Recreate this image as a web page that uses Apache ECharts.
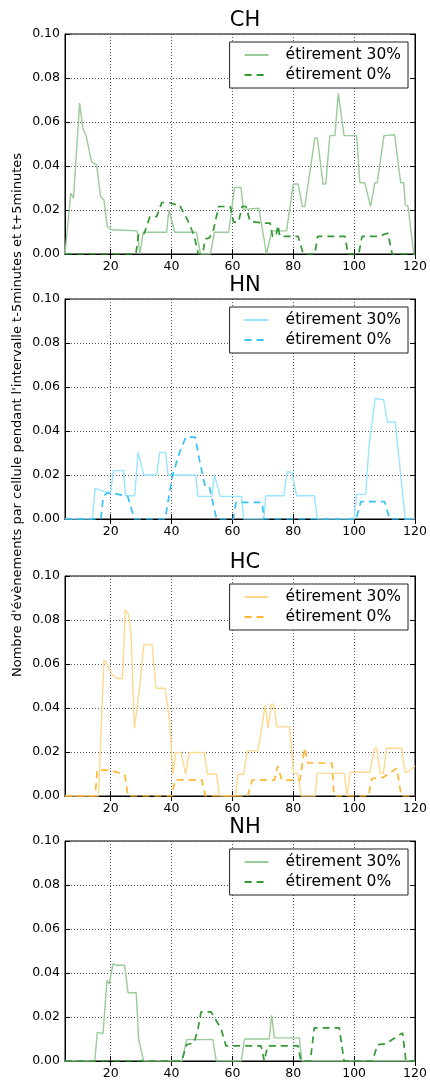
<!DOCTYPE html>
<html><head><meta charset="utf-8">
<script src="https://cdn.jsdelivr.net/npm/echarts@6/dist/echarts.min.js"></script>
<style>html,body{margin:0;padding:0;background:#fff}#c{width:430px;height:1082px}</style>
</head><body><div id="c"></div>
<script>
const panelTitles = ['CH', 'HN', 'HC', 'NH'];
const legendLabels = ['étirement 30%', 'étirement 0%'];
const yAxisTitle = "Nombre d'évènements par cellule pendant l'intervalle t-5minutes et t+5minutes";
const xTickValues = [20, 40, 60, 80, 100, 120];

const ch30 = [[5,0],[6.9,0.0276],[7.8,0.0254],[9.8,0.0686],[10.9,0.057],[12,0.0534],[13.7,0.042],[15.4,0.0405],[16.7,0.026],[17.8,0.0246],[18.9,0.0124],[20.5,0.011],[28.7,0.0105],[29.6,0],[30.7,0.0099],[38.4,0.0099],[39.1,0.02],[41.1,0.0099],[48.2,0.0099],[49.5,0],[52.8,0],[54.1,0.0099],[58.8,0.0099],[60.7,0.0303],[62.8,0.0303],[63.6,0.0203],[68.7,0.0208],[71.2,0],[72.9,0.0105],[77.8,0.0105],[80,0.0318],[81.6,0.0318],[83,0.0216],[83.8,0.0216],[87.1,0.0527],[87.9,0.0527],[89.8,0.0318],[90.7,0.0318],[92,0.0538],[93.7,0.0538],[94.8,0.0731],[96.7,0.0538],[100.8,0.0538],[101.9,0.0324],[103.5,0.0324],[105.4,0.0216],[106,0.0216],[106.8,0.0324],[107.6,0.0324],[109.8,0.0538],[113.3,0.0542],[115.3,0.0324],[116.3,0.0324],[116.8,0.0223],[117.7,0.0218],[119.6,0],[120,0]];
const ch0 = [[5,0],[28.3,0],[29.2,0.0092],[31,0.0092],[32.9,0.017],[35.1,0.017],[36.8,0.0234],[39,0.0234],[40.9,0.0226],[42.5,0.0226],[45.8,0.014],[47.5,0.0079],[48.8,0],[50.3,0],[51,0.0068],[52.3,0.0072],[53.6,0.0099],[55.5,0.0216],[59.3,0.0216],[60.4,0.0145],[62,0.0145],[63.2,0.0216],[64.5,0.0216],[65.8,0.0148],[70.7,0.014],[72.4,0.014],[73.2,0.008],[74.3,0.008],[75,0.013],[75.6,0.008],[81.6,0.008],[83.3,0],[87.1,0],[88,0.008],[97,0.008],[98,0],[101.5,0],[102.6,0.008],[107.9,0.008],[111.1,0.0095],[112.5,0],[120,0]];
const hn30 = [[5,0],[14,0],[14.9,0.0139],[18.9,0.0121],[20,0.0118],[20.9,0.022],[24.2,0.022],[24.9,0.0106],[27.9,0.0106],[29,0.0303],[29.6,0.03],[30.9,0.02],[35.1,0.02],[36.1,0.0302],[38,0.0302],[38.9,0.02],[47.9,0.02],[48.7,0.0103],[53.3,0.0103],[54.1,0.02],[54.6,0.02],[56,0.0103],[63,0.0103],[63.7,0],[70.3,0],[71,0.0106],[76.9,0.0106],[78,0.0215],[79.5,0.0212],[81.1,0.0106],[86.9,0.0106],[87.9,0],[100,0],[100.8,0.0112],[103.8,0.0112],[104.9,0.0334],[106.9,0.0548],[109.7,0.0542],[110.9,0.0441],[113.5,0.0441],[116.8,0],[120,0]];
const hn0 = [[5,0],[16.8,0],[17.6,0.0103],[19,0.012],[20,0.0118],[22.6,0.0112],[25.6,0.0103],[27.8,0],[37.9,0],[40.3,0.0197],[42.7,0.0304],[44.7,0.0372],[47.8,0.0372],[49.1,0.0273],[51,0.015],[52.4,0.0148],[54.8,0],[60.3,0],[61.2,0.0076],[69.8,0.0076],[70.3,0],[100.7,0],[102.2,0.0079],[110,0.0079],[111.7,0],[120,0]];
const hc30 = [[5,0],[16,0],[17.8,0.0618],[18.6,0.0605],[20.6,0.055],[22,0.0534],[23.9,0.0534],[24.8,0.0845],[25.8,0.0828],[26.7,0.0735],[27.8,0.0308],[29.4,0.0478],[30.9,0.0688],[33.6,0.0688],[34.9,0.049],[37.9,0.049],[39.3,0.035],[40.5,0.0099],[41.4,0.0198],[43.1,0.0198],[44.6,0.0099],[45.8,0.0198],[50.7,0.0198],[51.8,0.0099],[54.8,0.0099],[55.8,0],[61,0],[61.8,0.0099],[63.7,0.0099],[64.9,0.0205],[68.4,0.0205],[70.8,0.0414],[71.7,0.0308],[72.8,0.0417],[73.6,0.0417],[74.6,0.0314],[78.8,0.0314],[80.1,0.0103],[81.5,0.0103],[82.6,0],[87.2,0],[87.8,0.0103],[96.8,0.0103],[97.6,0],[98.7,0.0108],[105.2,0.0108],[106.7,0.0217],[107.4,0.0217],[108.5,0.0103],[109.6,0.0103],[110.7,0.0217],[115.6,0.0217],[116.7,0.0108],[117.7,0.011],[120,0.0136]];
const hc0 = [[5,0],[14.9,0],[15.6,0.0118],[18.4,0.0118],[21.6,0.011],[24.7,0.0095],[25.7,0],[40.2,0],[41.1,0.0073],[50,0.0073],[51.1,0],[65,0],[66.5,0.0072],[73.8,0.0072],[74.9,0.0136],[75.5,0.0136],[76.3,0.0072],[82.2,0.0072],[83.7,0.0218],[84.8,0.015],[92.7,0.015],[93.4,0],[104.7,0],[105.8,0.0079],[109.6,0.0085],[114,0.0126],[115.5,0],[120,0]];
const nh30 = [[5,0],[14.8,0],[15.6,0.013],[17.5,0.0125],[18.8,0.0366],[19.5,0.035],[20.8,0.0443],[21.9,0.0435],[24.6,0.0435],[25.7,0.031],[28.4,0.031],[29.2,0.01],[29.6,0.0098],[30.8,0],[43.4,0],[45,0.0097],[53.6,0.0097],[54.7,0],[62.9,0],[64,0.01],[72.1,0.01],[72.9,0.0208],[73.8,0.0105],[82,0.0105],[82.8,0],[120,0]];
const nh0 = [[5,0],[43.4,0],[44.9,0.0074],[47.4,0.0082],[48.7,0.0146],[49.7,0.0223],[53,0.0223],[56.3,0.0146],[57.9,0.0069],[69.4,0.0069],[70.5,0],[71.6,0.0069],[81.6,0.0069],[82.5,0],[85.6,0],[86.9,0.0151],[95.1,0.0151],[96.7,0],[106,0],[107.7,0.0074],[110.4,0.0078],[115.9,0.0128],[117,0],[120,0]];

const panelData = [[ch30, ch0], [hn30, hn0], [hc30, hc0], [nh30, nh0]];
const panelColors = [['#99cc99', '#339933'], ['#99e5ff', '#33c4f5'], ['#ffd98f', '#ffb733'], ['#99cc99', '#339933']];
const gridTops = [34, 299, 576, 841];
const titleTops = [5, 270, 547, 812];
const legendTops = [42, 307, 584, 849];

const FONT = 'DejaVu Sans';
const grids = [], xAxes = [], yAxes = [], series = [], titles = [], legends = [];

panelTitles.forEach((t, i) => {
  grids.push({left: 65, width: 350, top: gridTops[i], height: 220, show: true, borderColor: '#000', borderWidth: 1, backgroundColor: '#fff'});
  titles.push({text: t, left: 240, textAlign: 'center', top: titleTops[i], textStyle: {fontFamily: FONT, fontSize: 21, fontWeight: 'normal', color: '#000'}});
  const tickCommon = {show: true, inside: true, length: 5, lineStyle: {color: '#000', width: 1}};
  xAxes.push({gridIndex: i, type: 'value', min: 5, max: 120, position: 'bottom',
    axisLine: {show: true, lineStyle: {color: '#000', width: 1}},
    axisTick: Object.assign({customValues: xTickValues}, tickCommon),
    axisLabel: {customValues: xTickValues, fontFamily: FONT, fontSize: 12.5, color: '#000', margin: 6},
    splitLine: {show: true, lineStyle: {color: '#555', width: 1, type: [1, 2]}}});
  xAxes.push({gridIndex: i, type: 'value', min: 5, max: 120, position: 'top',
    axisLine: {show: true, lineStyle: {color: '#000', width: 1}},
    axisTick: Object.assign({customValues: xTickValues}, tickCommon),
    axisLabel: {show: false}, splitLine: {show: false}});
  yAxes.push({gridIndex: i, type: 'value', min: 0, max: 0.1, interval: 0.02, position: 'left',
    axisLine: {show: true, lineStyle: {color: '#000', width: 1}},
    axisTick: tickCommon,
    axisLabel: {formatter: v => v.toFixed(2), fontFamily: FONT, fontSize: 12.5, color: '#000', margin: 5},
    splitLine: {show: true, lineStyle: {color: '#555', width: 1, type: [1, 2]}}});
  yAxes.push({gridIndex: i, type: 'value', min: 0, max: 0.1, interval: 0.02, position: 'right',
    axisLine: {show: true, lineStyle: {color: '#000', width: 1}},
    axisTick: tickCommon, axisLabel: {show: false}, splitLine: {show: false}});
  const names = [t + '|30', t + '|0'];
  panelData[i].forEach((d, k) => {
    series.push({name: names[k], type: 'line', xAxisIndex: 2 * i, yAxisIndex: 2 * i, data: d,
      symbol: 'none', showSymbol: false, z: k === 0 ? 3 : 4,
      lineStyle: {color: panelColors[i][k], width: k === 0 ? 1.4 : 1.7, type: k === 0 ? 'solid' : [7, 5]},
      itemStyle: {color: panelColors[i][k]}});
  });
  legends.push({data: names, orient: 'vertical', right: 22, top: legendTops[i],
    formatter: n => n.endsWith('|30') ? legendLabels[0] : legendLabels[1],
    itemWidth: 24, itemHeight: 14, itemGap: 4, padding: [5, 7, 5, 14],
    backgroundColor: '#fff', borderColor: '#222', borderWidth: 1, borderRadius: 0,
    selectedMode: false, itemStyle: {opacity: 0},
    textStyle: {fontFamily: FONT, fontSize: 15.5, color: '#000', padding: [0, 0, 0, 12]}});
});

const chart = echarts.init(document.getElementById('c'), null, {renderer: 'canvas'});
chart.setOption({
  animation: false,
  backgroundColor: '#fff',
  title: titles, grid: grids, xAxis: xAxes, yAxis: yAxes, series: series, legend: legends,
  graphic: [{type: 'text', x: 18, y: 415, rotation: Math.PI / 2,
    style: {text: yAxisTitle, fontFamily: FONT, fontSize: 13, fill: '#000', textAlign: 'center', textVerticalAlign: 'middle'}}]
});
</script></body></html>
